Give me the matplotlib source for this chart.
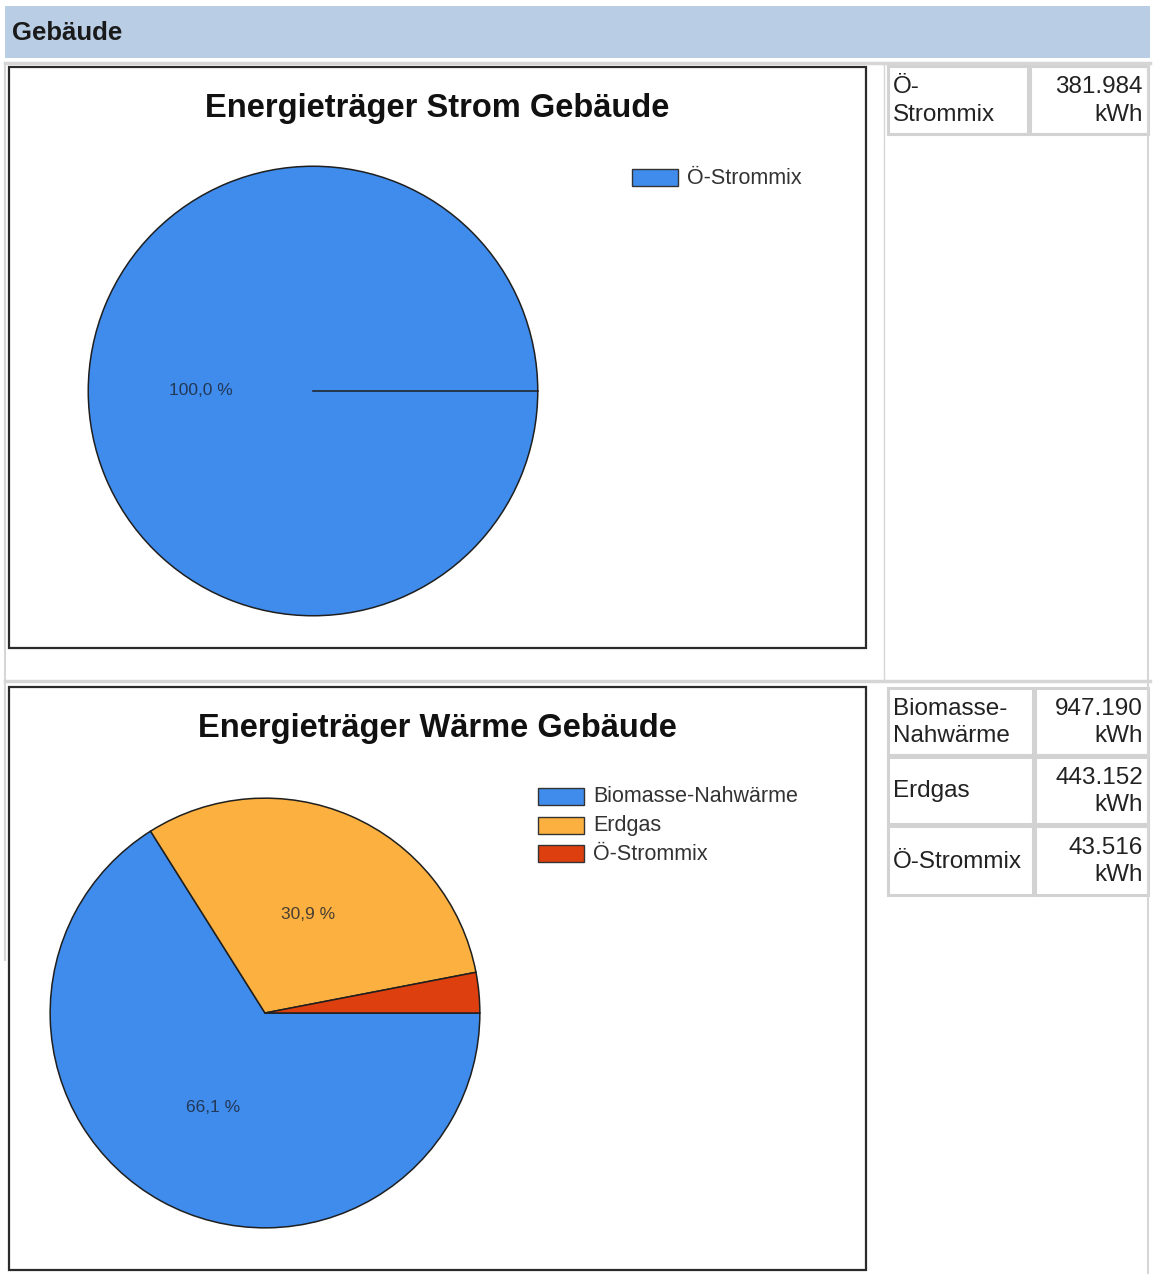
import matplotlib.pyplot as plt
import numpy as np
from matplotlib.patches import Rectangle

plt.rcParams['font.family'] = ['Liberation Sans', 'DejaVu Sans']

W, H = 1153, 1274

section_title = 'Gebäude'

strom_title = 'Energieträger Strom Gebäude'
strom_labels = ['Ö-Strommix']
strom_table_labels = ['Ö-\nStrommix']
strom_kwh = [381984]
strom_colors = ['#3f8cec']

waerme_title = 'Energieträger Wärme Gebäude'
waerme_labels = ['Biomasse-Nahwärme', 'Erdgas', 'Ö-Strommix']
waerme_table_labels = ['Biomasse-\nNahwärme', 'Erdgas', 'Ö-Strommix']
waerme_kwh = [947190, 443152, 43516]
waerme_colors = ['#3f8cec', '#fbb03f', '#dd3f0e']


def pct_label(p):
    # kleine Stücke ohne Beschriftung
    if p < 5:
        return ''
    return f'{p:.1f} %'.replace('.', ',')


def kwh_text(v):
    return f'{v:,}'.replace(',', '.') + '\nkWh'


def frac_box(x, y, w, h):
    # Pixel (von oben) -> Figurenanteil
    return [x / W, 1 - (y + h) / H, w / W, h / H]


fig = plt.figure(figsize=(W / 100, H / 100), dpi=100)
bg = fig.add_axes([0, 0, 1, 1])
bg.set_xlim(0, W)
bg.set_ylim(H, 0)
bg.axis('off')

# Kopfzeile
bg.add_patch(Rectangle((5, 6), 1145, 52, facecolor='#b9cde4', edgecolor='none'))
bg.text(12, 33, section_title, fontsize=18.5, fontweight='bold', color='#1a1a1a', va='center')

# graue Rahmenlinien
gray = '#d6d6d6'
bg.plot([5, 1150], [63, 63], color=gray, lw=2.5)
bg.plot([5, 1150], [681, 681], color=gray, lw=2.5)
bg.plot([5, 5], [63, 960], color=gray, lw=1.5)
bg.plot([1148, 1148], [63, 1274], color=gray, lw=1.5)
bg.plot([884, 884], [63, 681], color=gray, lw=1.0)


def draw_chart(top, bottom, title, labels, values, colors, center, radius, leg_x, leg_y):
    bg.add_patch(Rectangle((9, top), 857, bottom - top, facecolor='white',
                           edgecolor='#2b2b2b', lw=1.6))
    bg.text(437, top + 42, title, fontsize=23.5, fontweight='bold', color='#111111',
            ha='center', va='center')

    cx, cy = center
    ax = fig.add_axes(frac_box(cx - radius, cy - radius, 2 * radius, 2 * radius))
    wedges, texts, autotexts = ax.pie(values, colors=colors, startangle=0, counterclock=False,
                                      autopct=pct_label, pctdistance=0.5,
                                      wedgeprops=dict(edgecolor='#1f1f1f', linewidth=1.1))
    for t in autotexts:
        t.set_fontsize(12.5)
        t.set_color('#1c2230')
        t.set_alpha(0.8)
    if len(values) == 1:
        a = np.deg2rad(wedges[0].theta1)
        ax.plot([0, np.cos(a)], [0, np.sin(a)], color='#1f1f1f', lw=1.1)
    ax.set_xlim(-1.01, 1.01)
    ax.set_ylim(-1.01, 1.01)
    ax.set_facecolor('none')

    for i, (lab, col) in enumerate(zip(labels, colors)):
        y = leg_y + i * 28.7
        bg.add_patch(Rectangle((leg_x, y - 9), 46, 17, facecolor=col,
                               edgecolor='#333333', lw=1.0))
        bg.text(leg_x + 55, y, lab, fontsize=15.5, color='#333333', va='center')


def draw_table(x0, xs, x1, rows, labels, values):
    for (ya, yb), lab, v in zip(rows, labels, values):
        bg.add_patch(Rectangle((x0, ya), xs - x0, yb - ya, facecolor='white',
                               edgecolor='#d2d2d2', lw=2.2))
        bg.add_patch(Rectangle((xs + 2, ya), x1 - xs - 2, yb - ya, facecolor='white',
                               edgecolor='#d2d2d2', lw=2.2))
        ym = (ya + yb) / 2 + 1
        bg.text(x0 + 5, ym, lab, fontsize=17.5, color='#222222', va='center',
                linespacing=1.3)
        bg.text(x1 - 5, ym, kwh_text(v), fontsize=17.5, color='#222222', va='center',
                ha='right', linespacing=1.3)


draw_chart(67, 648, strom_title, strom_labels, strom_kwh, strom_colors,
           (313, 391), 227, 632, 178)
draw_chart(687, 1270, waerme_title, waerme_labels, waerme_kwh, waerme_colors,
           (265, 1013), 217, 538, 797)

draw_table(888, 1028, 1148, [(66, 134)], strom_table_labels, strom_kwh)
draw_table(888, 1033, 1148, [(688, 755), (757, 824), (826, 895)],
           waerme_table_labels, waerme_kwh)

fig.savefig('out.png', dpi=100)
